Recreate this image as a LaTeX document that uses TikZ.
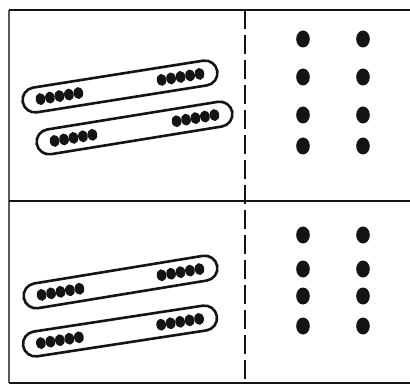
\documentclass[tikz,border=0pt]{standalone}
\usetikzlibrary{calc}
\definecolor{Trazo}{RGB}{20,20,20}

% capsula: centro x, centro y, angulo, largo
\newcommand{\capsula}[4]{%
  \begin{scope}[shift={(#1,#2)}, rotate=#3]
    \draw[borde, rounded corners=12.5pt] ({-#4/2},-12.5) rectangle ({#4/2},12.5);
    \foreach \k in {0,...,4}{
      \fill[punto] ({-#4/2+18+9.6*\k},0) ellipse[x radius=4.8, y radius=6];
      \fill[punto] ({#4/2-18-9.6*\k},0) ellipse[x radius=4.8, y radius=6];
    }
  \end{scope}}

\begin{document}
\begin{tikzpicture}[
  x=1pt, y=-1pt,
  marco/.style={draw=Trazo, line width=2.4pt},
  borde/.style={draw=Trazo, line width=2.6pt},
  punto/.style={fill=Trazo}
]
  \useasboundingbox (0,0) rectangle (410,385);

  % --- Marco y divisiones ---
  \draw[marco, draw=gray!70!black, line width=1.5pt] (9,10) -- (9,383);
  \draw[marco] (9,10)  -- (410,10);
  \draw[marco] (9,201) -- (410,201);
  \draw[marco] (9,383) -- (410,383);
  \draw[marco, dash pattern=on 19pt off 6pt] (245,10) -- (245,383);

  % --- Capsulas (izquierda) ---
  \capsula{120}{86.5}{9.0}{197}
  \capsula{134.5}{128}{9.2}{198}
  \capsula{120.5}{282}{9.3}{196}
  \capsula{120}{331}{8.7}{196}

  % --- Puntos sueltos (derecha) ---
  \foreach \x in {303,363}{
    \foreach \y in {39,77,115,146}
      \fill[punto] (\x,\y) ellipse[x radius=6.8, y radius=8.5];
    \foreach \y in {235,269,296,326}
      \fill[punto] (\x,\y) ellipse[x radius=6.8, y radius=8.5];
  }
\end{tikzpicture}
\end{document}
